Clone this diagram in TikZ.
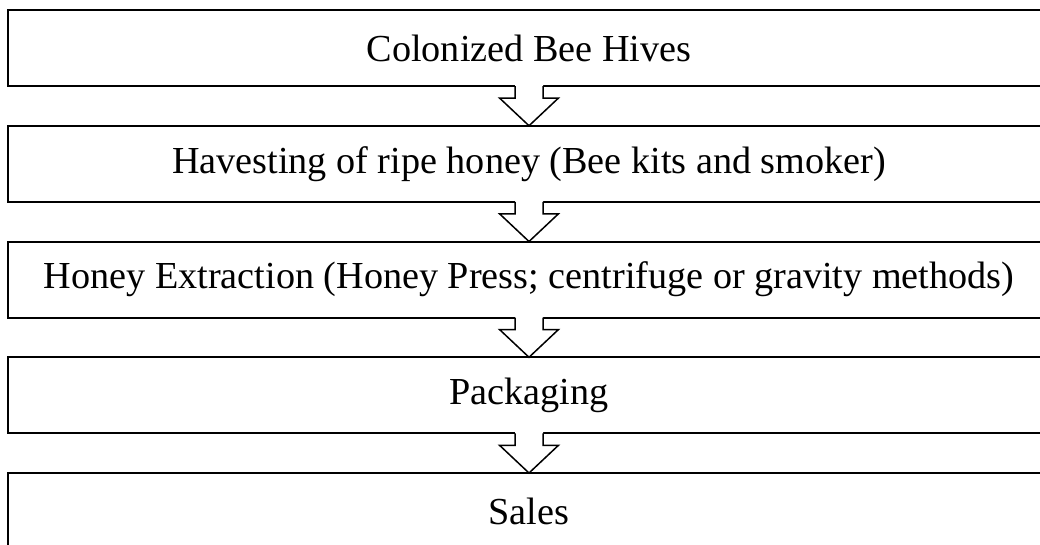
\documentclass[tikz,border=0pt]{standalone}
\usepackage{fontspec}
\setmainfont{Liberation Serif}
\usetikzlibrary{positioning,calc}

\tikzset{
  stepbox/.style={draw,line width=2pt,minimum width=1042pt,minimum height=76pt,
                  inner sep=0pt,outer sep=0pt,font=\fontsize{38.2}{42}\selectfont},
  flowline/.style={line width=1.5pt,line join=miter}
}

\begin{document}
\begin{tikzpicture}[node distance=39.75pt]
\useasboundingbox (0,0) rectangle (1040pt,-544pt);
\clip (0,0) rectangle (1040pt,-544pt);
% the five stages
\node[stepbox] (hives) at (529pt,-48pt) {Colonized Bee Hives};
\node[stepbox,below=of hives] (harvest) {Havesting of ripe honey (Bee kits and smoker)};
\node[stepbox,below=of harvest] (extract) {Honey Extraction (Honey Press; centrifuge or gravity methods)};
\node[stepbox,below=of extract] (pack) {Packaging};
\node[stepbox,below=of pack] (sales) {Sales};
% block arrows between stages
\foreach \a/\b in {hives/harvest,harvest/extract,extract/pack,pack/sales}{
  \fill[white] ($(\a.south)+(-14pt,1.2pt)$) -- ($(\a.south)+(-14pt,-12pt)$)
    -- ($(\a.south)+(-29.5pt,-12pt)$) -- (\b.north)
    -- ($(\a.south)+(29.5pt,-12pt)$) -- ($(\a.south)+(14pt,-12pt)$)
    -- ($(\a.south)+(14pt,1.2pt)$) -- cycle;
  \draw[flowline] ($(\a.south)+(-14pt,0pt)$) -- ($(\a.south)+(-14pt,-12pt)$)
    -- ($(\a.south)+(-29.5pt,-12pt)$) -- (\b.north)
    -- ($(\a.south)+(29.5pt,-12pt)$) -- ($(\a.south)+(14pt,-12pt)$)
    -- ($(\a.south)+(14pt,0pt)$);
}
\end{tikzpicture}
\end{document}
